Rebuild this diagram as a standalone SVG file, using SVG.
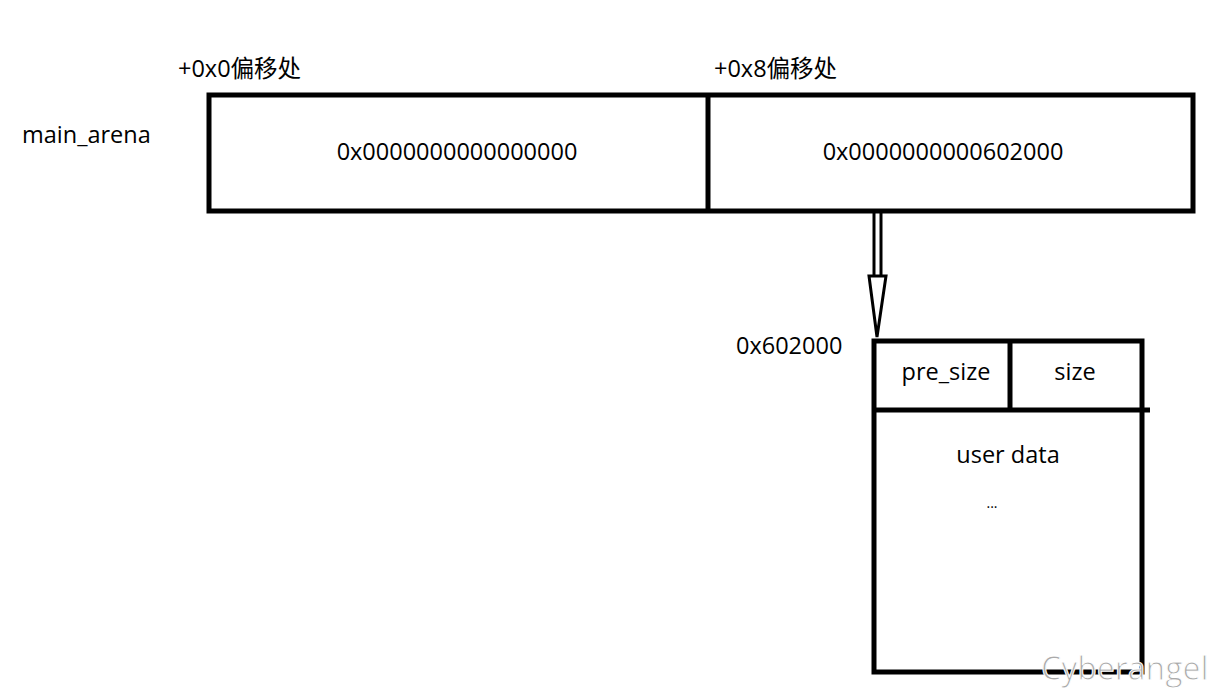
<svg xmlns="http://www.w3.org/2000/svg" width="1225" height="691" viewBox="0 0 1225 691">
<style>
.b{fill:none;stroke:#000;stroke-width:5}
.t{font-family:"Open Sans","Noto Sans CJK SC",sans-serif;font-size:23.5px;fill:#000}
.m{text-anchor:middle}
</style>
<rect width="1225" height="691" fill="#fff"/>
<g id="labels">
<text class="t" x="178" y="77">+0x0偏移处</text>
<text class="t" x="714" y="77">+0x8偏移处</text>
<text class="t" x="22" y="143">main_arena</text>
<text class="t" x="736" y="354">0x602000</text>
</g>
<g id="main_arena">
<rect class="b" x="209" y="95" width="984" height="116"/>
<line class="b" x1="708" y1="95" x2="708" y2="211"/>
<text class="t m" x="457" y="160">0x0000000000000000</text>
<text class="t m" x="943" y="160">0x0000000000602000</text>
</g>
<g id="chunk">
<rect class="b" x="874" y="341" width="268" height="331"/>
<line class="b" x1="874" y1="410" x2="1150" y2="410"/>
<line class="b" x1="1010" y1="341" x2="1010" y2="410"/>
<text class="t m" x="946" y="380">pre_size</text>
<text class="t m" x="1075" y="380">size</text>
<text class="t m" x="1008" y="463">user data</text>
<text class="t m" x="992" y="508" style="font-size:14px">...</text>
</g>
<g id="connectors">
<line x1="874" y1="212" x2="874" y2="276" stroke="#000" stroke-width="3"/>
<line x1="881" y1="212" x2="881" y2="276" stroke="#000" stroke-width="3"/>
<polygon points="869,276 886,276 877,337" fill="#fff" stroke="#000" stroke-width="3"/>
</g>
<text x="1041" y="680" style="font-family:'Open Sans',sans-serif;font-size:32px;fill:#aaa;stroke:#fff;stroke-width:1">Cyberangel</text>
</svg>
